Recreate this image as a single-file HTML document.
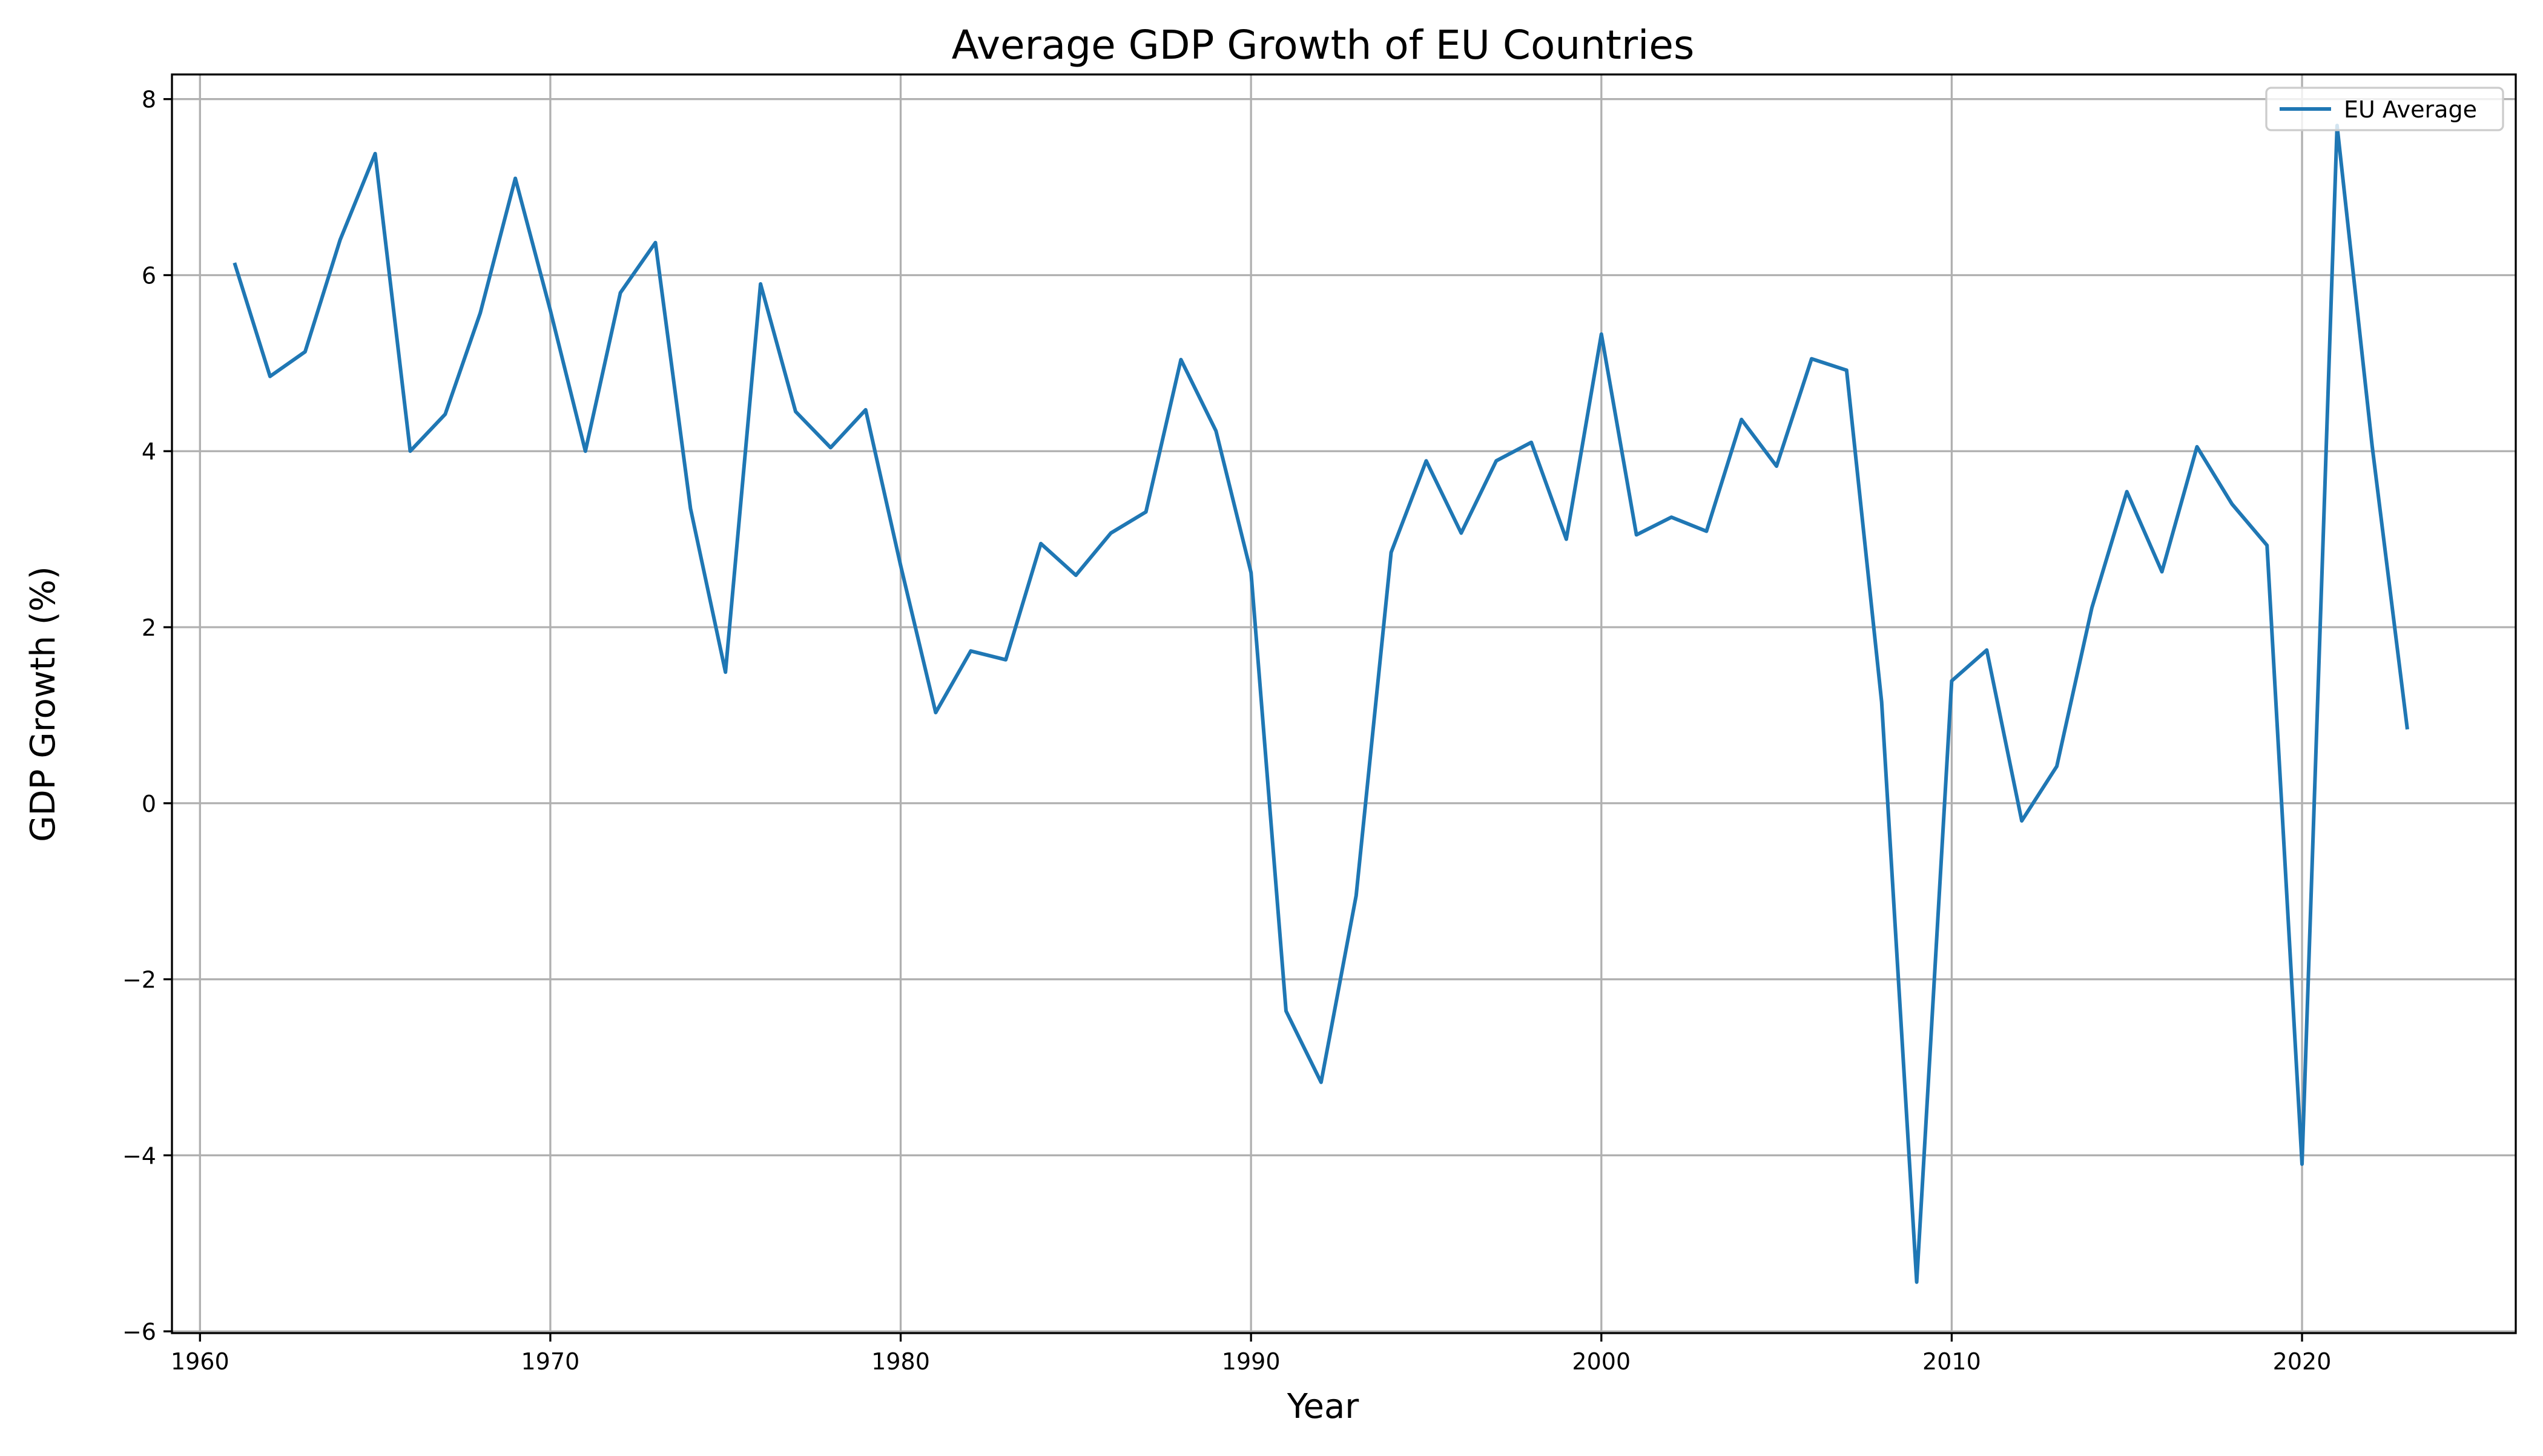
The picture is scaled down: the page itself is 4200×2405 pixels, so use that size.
<!DOCTYPE html>
<html><head><meta charset="utf-8"><style>
html,body{margin:0;padding:0;background:#fff}
svg text{font-family:"DejaVu Sans","Liberation Sans",sans-serif;fill:#000}
</style></head><body>
<svg id="chart" width="4200" height="2400" viewBox="0 0 4200 2400" xmlns="http://www.w3.org/2000/svg">
<rect width="4200" height="2400" fill="#fff"/>
<g id="grid"></g>
<g id="series"></g>
<rect x="284" y="123" width="3871" height="2079" fill="none" stroke="#000" stroke-width="3.3"/>
<g id="ticks"></g>
<text x="2185" y="97" font-size="66" text-anchor="middle">Average GDP Growth of EU Countries</text>
<text x="2185" y="2342" font-size="56" text-anchor="middle">Year</text>
<text transform="translate(90,1163) rotate(-90)" font-size="56" text-anchor="middle">GDP Growth (%)</text>
<g>
<rect x="3743" y="145" width="391" height="70" rx="8" fill="#fff" fill-opacity="0.8" stroke="#ccc" stroke-width="3.3"/>
<line x1="3765" y1="180" x2="3850" y2="180" stroke="#1f77b4" stroke-width="6"/>
<text x="3871" y="194" font-size="38">EU Average</text>
</g>
</svg>
<script>
const years = [1961,1962,1963,1964,1965,1966,1967,1968,1969,1970,1971,1972,1973,1974,1975,1976,1977,1978,1979,1980,1981,1982,1983,1984,1985,1986,1987,1988,1989,1990,1991,1992,1993,1994,1995,1996,1997,1998,1999,2000,2001,2002,2003,2004,2005,2006,2007,2008,2009,2010,2011,2012,2013,2014,2015,2016,2017,2018,2019,2020,2021,2022,2023];
const growth = [6.12,4.85,5.13,6.4,7.38,4.0,4.42,5.57,7.1,5.6,4.0,5.8,6.37,3.35,1.49,5.9,4.45,4.04,4.47,2.7,1.03,1.73,1.63,2.95,2.59,3.07,3.31,5.04,4.23,2.62,-2.36,-3.17,-1.05,2.85,3.89,3.07,3.89,4.1,3.0,5.33,3.05,3.25,3.09,4.36,3.83,5.05,4.92,1.15,-5.44,1.39,1.74,-0.2,0.42,2.22,3.54,2.63,4.05,3.4,2.93,-4.1,7.7,4.06,0.86];
const xTicks = [1960,1970,1980,1990,2000,2010,2020];
const yTicks = [-6,-4,-2,0,2,4,6,8];

const L=284,R=4155,T=123,B=2202;
const xMin=1959.2,xMax=2026.1,yMin=-6.02,yMax=8.28;
const xs=v=>L+(v-xMin)/(xMax-xMin)*(R-L);
const ys=v=>B-(v-yMin)/(yMax-yMin)*(B-T);
const NS="http://www.w3.org/2000/svg";
function mk(tag,attrs,parent){const e=document.createElementNS(NS,tag);for(const k in attrs)e.setAttribute(k,attrs[k]);parent.appendChild(e);return e;}
const grid=document.getElementById('grid'),ticks=document.getElementById('ticks'),series=document.getElementById('series');

xTicks.forEach(t=>{
  const x=xs(t);
  const g=mk('line',{x1:x,x2:x,y1:T,y2:B,stroke:'#b0b0b0','stroke-width':3.3},grid);
  
  
  const tk=mk('line',{x1:x,x2:x,y1:B,y2:B+14,stroke:'#000','stroke-width':3.3},ticks);
  
  
  const tx=mk('text',{x:x,y:B+60,'font-size':38,'text-anchor':'middle'},ticks);
  tx.textContent=t;
  
  
});
yTicks.forEach(t=>{
  const y=ys(t);
  const g=mk('line',{x1:L,x2:R,y1:y,y2:y,stroke:'#b0b0b0','stroke-width':3.3},grid);
  
  
  const tk=mk('line',{x1:L-14,x2:L,y1:y,y2:y,stroke:'#000','stroke-width':3.3},ticks);
  
  
  const tx=mk('text',{x:L-26,y:y+14,'font-size':38,'text-anchor':'end'},ticks);
  tx.textContent=(t<0?'\u2212'+Math.abs(t):t);
  
  
});
const pts=years.map((yr,i)=>xs(yr).toFixed(1)+','+ys(growth[i]).toFixed(1)).join(' ');
const line=mk('polyline',{points:pts,fill:'none',stroke:'#1f77b4','stroke-width':6,'stroke-linejoin':'round','stroke-linecap':'square'},series);


</script>
</body></html>
